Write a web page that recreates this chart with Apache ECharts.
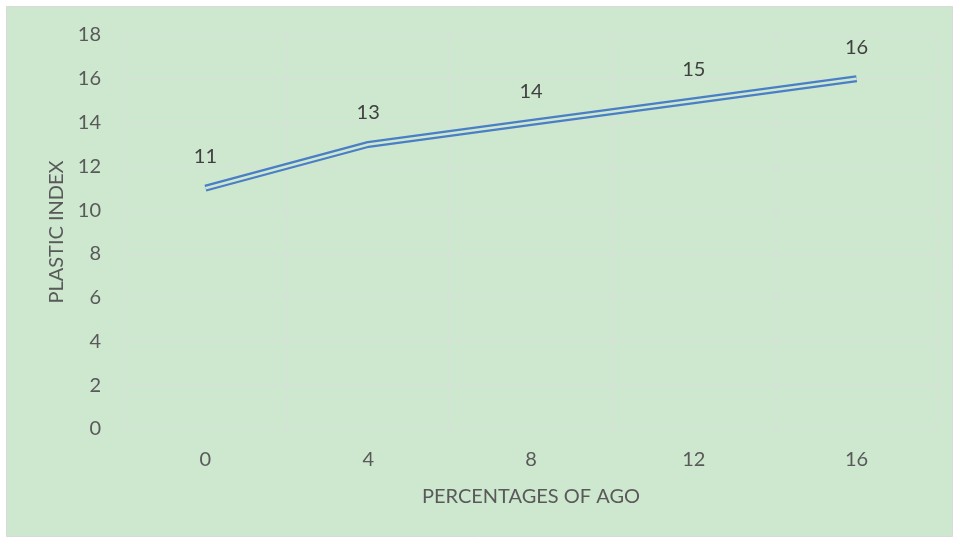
<!DOCTYPE html>
<html>
<head>
<meta charset="utf-8">
<script src="https://cdn.jsdelivr.net/npm/echarts@6/dist/echarts.min.js"></script>
<style>
html,body{margin:0;padding:0;background:#fff;}
#c{width:959px;height:543px;}
</style>
</head>
<body>
<div id="c"></div>
<script>
const categories = ['0', '4', '8', '12', '16'];
const plasticIndex = [11, 13, 14, 15, 16];
const yTicks = { min: 0, max: 18, interval: 2 };

const BG = '#cde8cf';
const GRID = '#d9dfd9';
const TXT = '#595959';
const FONT = 'Lato';

const chart = echarts.init(document.getElementById('c'), null, { renderer: 'canvas' });
chart.setOption({
  backgroundColor: '#ffffff',
  animation: false,
  graphic: [{
    type: 'rect', z: -10, silent: true,
    shape: { x: 6.5, y: 6.5, width: 946, height: 530 },
    style: { fill: BG, stroke: '#d9d9d9', lineWidth: 1 }
  }],
  grid: { left: 124, right: 21, top: 35, bottom: 114, containLabel: false },
  xAxis: {
    type: 'category',
    data: categories,
    boundaryGap: true,
    name: 'PERCENTAGES OF AGO',
    nameLocation: 'middle',
    nameGap: 58,
    nameTextStyle: { color: TXT, fontSize: 20, fontFamily: FONT },
    axisLine: { lineStyle: { color: GRID, width: 1 } },
    axisTick: { show: false },
    axisLabel: { color: TXT, fontSize: 20, fontFamily: FONT, margin: 21 },
    splitLine: { show: true, lineStyle: { color: GRID, width: 1 } }
  },
  yAxis: {
    type: 'value',
    min: yTicks.min, max: yTicks.max, interval: yTicks.interval,
    name: 'PLASTIC INDEX',
    nameLocation: 'middle',
    nameGap: 57,
    nameRotate: 90,
    nameTextStyle: { color: TXT, fontSize: 20, fontFamily: FONT },
    axisLine: { show: false },
    axisTick: { show: false },
    axisLabel: { color: TXT, fontSize: 20, fontFamily: FONT, margin: 23 },
    splitLine: { show: true, lineStyle: { color: GRID, width: 1 } }
  },
  series: [
    {
      type: 'line',
      data: plasticIndex,
      symbol: 'circle',
      symbolSize: 1,
      showSymbol: true,
      itemStyle: { color: 'rgba(0,0,0,0)' },
      lineStyle: { color: '#4a7ec6', width: 7 },
      z: 2,
      label: {
        show: true, position: 'top', distance: 21,
        color: '#404040', fontSize: 20, fontFamily: FONT
      }
    },
    {
      type: 'line',
      data: plasticIndex,
      symbol: 'none',
      lineStyle: { color: BG, width: 2.5 },
      z: 3,
      silent: true
    }
  ]
});
</script>
</body>
</html>
